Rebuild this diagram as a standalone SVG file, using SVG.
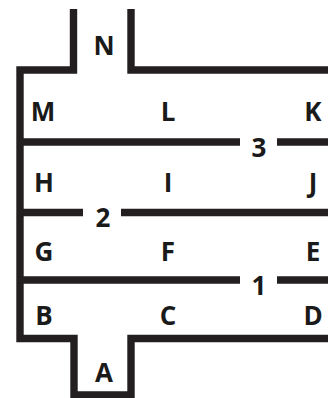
<svg xmlns="http://www.w3.org/2000/svg" width="328" height="398" viewBox="0 0 328 398">
<style>
.w{fill:none;stroke:#231f20;stroke-width:7.4;stroke-linejoin:miter;stroke-linecap:butt}
.t{font-family:"Open Sans","Liberation Sans",sans-serif;font-weight:bold;font-size:26px;fill:#1a1a1a;text-anchor:middle}
</style>
<rect width="328" height="398" fill="#fff"/>
<g id="walls">
<path class="w" d="M73.5,9V70H20V338.5H74V395H131V338.5H328"/>
<path class="w" d="M131,9V70H328"/>
<path class="w" d="M20,142H240M277,142H328"/>
<path class="w" d="M20,212.5H83M121,212.5H328"/>
<path class="w" d="M20,280H240M277,280H328"/>
</g>
<g id="labels">
<text class="t" x="104" y="55">N</text>
<text class="t" x="43" y="121">M</text>
<text class="t" x="168" y="121">L</text>
<text class="t" x="313" y="121">K</text>
<text class="t" x="259" y="157">3</text>
<text class="t" x="44" y="192">H</text>
<text class="t" x="168" y="192">I</text>
<text class="t" x="313" y="192">J</text>
<text class="t" x="103" y="227">2</text>
<text class="t" x="44" y="261">G</text>
<text class="t" x="168" y="261">F</text>
<text class="t" x="313" y="261">E</text>
<text class="t" x="259" y="295">1</text>
<text class="t" x="44" y="325">B</text>
<text class="t" x="168" y="325">C</text>
<text class="t" x="313" y="325">D</text>
<text class="t" x="104" y="382">A</text>
</g>
</svg>
